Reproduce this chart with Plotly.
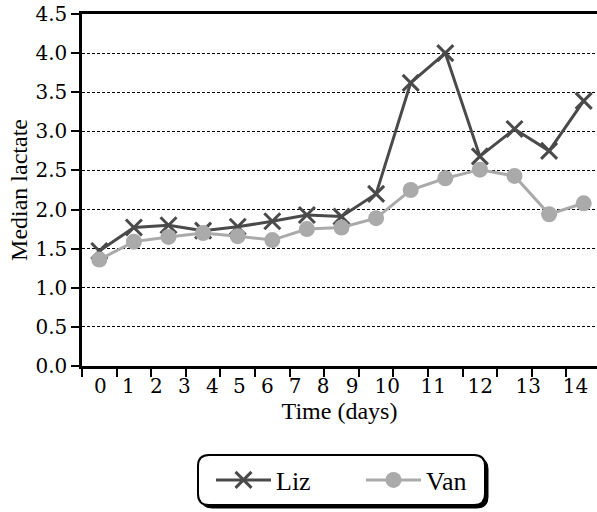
import plotly.graph_objects as go

days = list(range(15))
tick_labels = [str(d) for d in days]
liz = [1.47, 1.77, 1.80, 1.73, 1.78, 1.85, 1.93, 1.91, 2.20, 3.62, 4.00, 2.68, 3.03, 2.75, 3.39]
van = [1.36, 1.59, 1.65, 1.70, 1.66, 1.61, 1.75, 1.77, 1.89, 2.25, 2.40, 2.51, 2.43, 1.94, 2.08]

# label anchor positions as rendered in the reference (labels packed tighter than categories)
label_pos = [0.03, 0.84, 1.65, 2.46, 3.27, 4.05, 4.86, 5.66, 6.47, 7.31, 8.32, 9.65, 11.01, 12.40, 13.76]

W, H = 597, 512
PLOT_L, PLOT_T, PLOT_B = 82, 14, 366   # page pixel positions of plot box
ML, MT, MR = PLOT_L, PLOT_T, 0
MB = H - PLOT_B
PW, PH = W - ML - MR, PLOT_B - PLOT_T

fig = go.Figure()
fig.add_trace(go.Scatter(
    x=days, y=liz, name="Liz", mode="lines+markers",
    line=dict(color="#4a4a4a", width=3),
    marker=dict(symbol="x-thin", size=16, color="#4a4a4a",
                line=dict(color="#4a4a4a", width=3)),
))
fig.add_trace(go.Scatter(
    x=days, y=van, name="Van", mode="lines+markers",
    line=dict(color="#aaaaaa", width=3),
    marker=dict(symbol="circle", size=16, color="#aaaaaa"),
))

def px2paper(px, py):
    return (px - PLOT_L) / PW, (PLOT_B - py) / PH

def rounded_rect(x0, y0, x1, y1, r):
    def P(x, y):
        a, b = px2paper(x, y)
        return f"{a:.5f},{b:.5f}"
    return (f"M {P(x0 + r, y0)} L {P(x1 - r, y0)} Q {P(x1, y0)} {P(x1, y0 + r)} "
            f"L {P(x1, y1 - r)} Q {P(x1, y1)} {P(x1 - r, y1)} "
            f"L {P(x0 + r, y1)} Q {P(x0, y1)} {P(x0, y1 - r)} "
            f"L {P(x0, y0 + r)} Q {P(x0, y0)} {P(x0 + r, y0)} Z")

shapes = [
    dict(type="path", xref="paper", yref="paper", path=rounded_rect(201, 458, 488, 508, 11),
         fillcolor="black", line=dict(color="black", width=1), layer="above"),
    dict(type="path", xref="paper", yref="paper", path=rounded_rect(198, 455, 485, 505, 11),
         fillcolor="white", line=dict(color="black", width=2), layer="above"),
]

leg_x, leg_y = px2paper(341 + 20, 480)

fig.update_layout(
    width=W, height=H,
    margin=dict(l=ML, r=MR, t=MT, b=MB, autoexpand=False),
    paper_bgcolor="white", plot_bgcolor="white",
    font=dict(family="Liberation Serif", color="black", size=18),
    showlegend=True,
    legend=dict(orientation="h", x=leg_x, xanchor="center", y=leg_y, yanchor="middle",
                bgcolor="rgba(0,0,0,0)", font=dict(family="Liberation Serif", size=26),
                itemwidth=55, entrywidth=80, entrywidthmode="pixels"),
    shapes=shapes,
    xaxis=dict(
        range=[-0.5, -0.5 + PW / 34.6], showgrid=False, zeroline=False, automargin=False,
        showline=True, linecolor="black", linewidth=2.5, mirror=True,
        tickmode="array", tickvals=label_pos, ticktext=tick_labels, ticks="",
        tickfont=dict(family="DejaVu Serif", size=20), ticklabeloverflow="allow",
        minor=dict(tickmode="linear", tick0=-0.5, dtick=1, ticks="outside",
                   ticklen=8, tickwidth=2, tickcolor="black", showgrid=False),
        title=dict(text="Time (days)", font=dict(family="Liberation Serif", size=24), standoff=4),
        fixedrange=True,
    ),
    yaxis=dict(
        range=[0, 4.5], dtick=0.5, tickformat=".1f", zeroline=False, automargin=False,
        showline=True, linecolor="black", linewidth=2.5,
        ticks="outside", ticklen=8, tickwidth=2, tickcolor="black",
        showgrid=True, gridcolor="black", gridwidth=1, griddash="3px,2px",
        tickfont=dict(family="DejaVu Serif", size=20), ticklabeloverflow="allow",
        title=dict(text="Median lactate", font=dict(family="Liberation Serif", size=24), standoff=2),
        fixedrange=True,
    ),
)

fig.write_html("out.html", config={"displayModeBar": False},
               post_script="document.body.style.margin='0px';")
